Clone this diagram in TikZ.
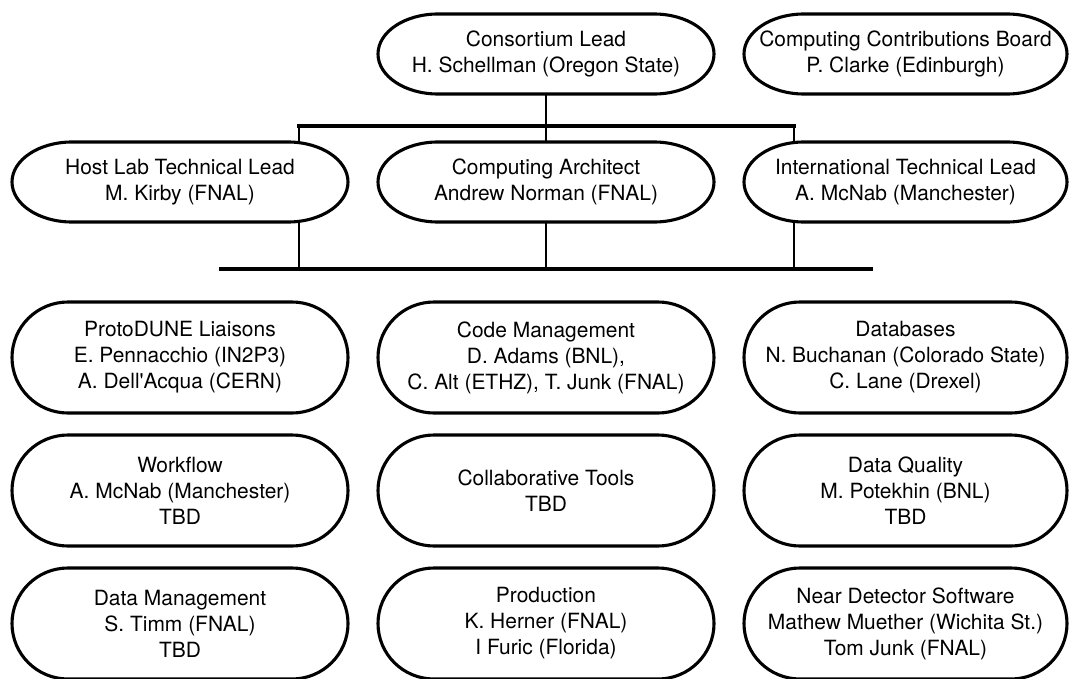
\documentclass[tikz,border=0pt]{standalone}
\usepackage{fontspec}
\setmainfont{TeX Gyre Heros}
\usetikzlibrary{positioning}
\tikzstyle{role} = [rectangle, minimum width=8.4cm, minimum height=2cm, inner sep=0pt, outer sep=0pt, align=center, font=\fontsize{14.9pt}{18.5pt}\selectfont]
\tikzstyle{team} = [role, minimum height=2.775cm]
\tikzstyle{side} = [minimum width=8.075cm]
\tikzstyle{outline} = [line width=2.2pt]
\tikzstyle{link} = [line width=2.1pt]
\tikzstyle{bar} = [line width=3.2pt]

\begin{document}
\begin{tikzpicture}
\useasboundingbox (0,0) rectangle (26.75,-16.975);

% leads
\node (lead) [role] at (13.65,-1.35) {Consortium Lead\\H. Schellman (Oregon State)};
\node (arch) [role, below=1.2cm of lead] {Computing Architect\\Andrew Norman (FNAL)};
\node (host) [role, left=0.75cm of arch] {Host Lab Technical Lead\\M. Kirby (FNAL)};
\node (intl) [role, side, right=0.75cm of arch] {International Technical Lead\\A. McNab (Manchester)};
\node (board) [role, side, above=1.2cm of intl] {Computing Contributions Board\\P. Clarke (Edinburgh)};

% working groups
\node (code) [team, below=2cm of arch] {Code Management\\D. Adams (BNL),\\C. Alt (ETHZ), T. Junk (FNAL)};
\node (proto) [team, left=0.75cm of code] {ProtoDUNE Liaisons\\E. Pennacchio (IN2P3)\\A. Dell\textquotesingle Acqua (CERN)};
\node (dbs) [team, side, right=0.75cm of code] {Databases\\N. Buchanan (Colorado State)\\C. Lane (Drexel)};
\node (collab) [team, below=0.55cm of code] {Collaborative Tools\\TBD};
\node (wflow) [team, left=0.75cm of collab] {Workflow\\A. McNab (Manchester)\\TBD};
\node (dq) [team, side, right=0.75cm of collab] {Data Quality\\M. Potekhin (BNL)\\TBD};
\node (prod) [team, below=0.55cm of collab] {Production\\K. Herner (FNAL)\\I Furic (Florida)};
\node (dm) [team, left=0.75cm of prod] {Data Management\\S. Timm (FNAL)\\TBD};
\node (nd) [team, side, right=0.75cm of prod] {Near Detector Software\\Mathew Muether (Wichita St.)\\Tom Junk (FNAL)};

% capsule outlines
\foreach \n in {lead,board,host,arch,intl}
  \draw [outline] ([xshift=1.5cm]\n.north west) -- ([xshift=-1.5cm]\n.north east)
    arc [start angle=90, end angle=-90, x radius=1.5cm, y radius=1cm]
    -- ([xshift=1.5cm]\n.south west)
    arc [start angle=270, end angle=90, x radius=1.5cm, y radius=1cm] -- cycle;
\foreach \n in {proto,code,dbs,wflow,collab,dq,dm,prod,nd}
  \draw [outline] ([xshift=1.4cm]\n.north west) -- ([xshift=-1.4cm]\n.north east)
    arc [start angle=90, end angle=-90, x radius=1.4cm, y radius=1.3875cm]
    -- ([xshift=1.4cm]\n.south west)
    arc [start angle=270, end angle=90, x radius=1.4cm, y radius=1.3875cm] -- cycle;

% connectors
\coordinate (upL) at (7.475,-3.15);
\coordinate (upR) at (19.85,-3.15);
\coordinate (lowL) at (5.475,-6.725);
\coordinate (lowR) at (21.825,-6.725);

\draw [link] (lead) -- (arch);
\draw [link] (upL) -- (host.north -| upL);
\draw [link] (upR) -- (intl.north -| upR);
\draw [bar, line cap=rect] (upL) -- (upR);
\draw [link] (host.south -| upL) -- (lowL -| upL);
\draw [link] (arch) -- (arch |- lowL);
\draw [link] (intl.south -| upR) -- (lowR -| upR);
\draw [bar] (lowL) -- (lowR);

\end{tikzpicture}
\end{document}
